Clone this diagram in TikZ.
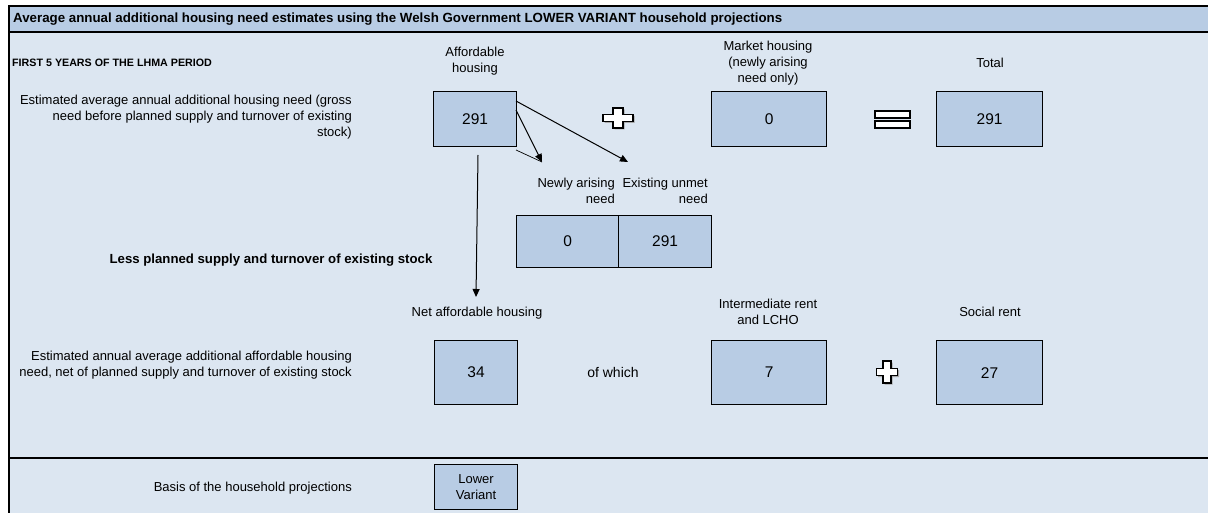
\documentclass[tikz,border=0pt]{standalone}
\usepackage{fontspec}
\setmainfont{Liberation Sans}
\usetikzlibrary{arrows.meta}
\definecolor{bodyblue}{HTML}{DCE6F1}
\definecolor{boxblue}{HTML}{B8CCE4}
\tikzset{
  numbox/.style={draw=black, line width=1.2pt, fill=boxblue, anchor=north west, inner sep=0pt,
    font=\fontsize{15.5}{17}\selectfont, align=center},
  lbl/.style={font=\fontsize{13}{16}\selectfont, align=center, inner sep=0pt},
  rlbl/.style={font=\fontsize{13}{16}\selectfont, align=right, inner sep=0pt, anchor=east},
  conn/.style={line width=1pt, -{Triangle[length=8pt,width=7pt]}},
  pics/plusmark/.style n args={4}{code={
    \fill[black!35] ({-#3/2+1.5},{-#2/2+1.5}) -- ({#3/2+1.5},{-#2/2+1.5}) -- ({#3/2+1.5},{-#4/2+1.5}) -- ({#1/2+1.5},{-#4/2+1.5})
      -- ({#1/2+1.5},{#4/2+1.5}) -- ({#3/2+1.5},{#4/2+1.5}) -- ({#3/2+1.5},{#2/2+1.5}) -- ({-#3/2+1.5},{#2/2+1.5})
      -- ({-#3/2+1.5},{#4/2+1.5}) -- ({-#1/2+1.5},{#4/2+1.5}) -- ({-#1/2+1.5},{-#4/2+1.5}) -- ({-#3/2+1.5},{-#4/2+1.5}) -- cycle;
    \draw[fill=white, line width=1.6pt, line join=miter] ({-#3/2},{-#2/2}) -- ({#3/2},{-#2/2}) -- ({#3/2},{-#4/2}) -- ({#1/2},{-#4/2})
      -- ({#1/2},{#4/2}) -- ({#3/2},{#4/2}) -- ({#3/2},{#2/2}) -- ({-#3/2},{#2/2})
      -- ({-#3/2},{#4/2}) -- ({-#1/2},{#4/2}) -- ({-#1/2},{-#4/2}) -- ({-#3/2},{-#4/2}) -- cycle;
  }},
  eqbar/.style={draw=black, fill=white, line width=1.6pt}
}
\begin{document}
\begin{tikzpicture}[x=1pt,y=-1pt]
\useasboundingbox (0,0) rectangle (1208,513);
\fill[white] (0,0) rectangle (1208,513);
\fill[bodyblue] (9,6) rectangle (1208,513);
\fill[boxblue] (9,6) rectangle (1208,32);
\draw[line width=1.2pt] (9,513) -- (9,6) -- (1208,6);
\draw[line width=1.2pt] (9,32) -- (1208,32);
\node[anchor=west, inner sep=0pt, font=\fontsize{13.3}{15}\selectfont\bfseries] (title) at (13,19)
  {Average annual additional housing need estimates using the Welsh Government LOWER VARIANT household projections};
\node[anchor=west, inner sep=0pt, font=\fontsize{10.7}{12}\selectfont\bfseries] (first) at (12,63)
  {FIRST 5 YEARS OF THE LHMA PERIOD};

% column headings
\node[lbl] (hAff) at (475,61) {Affordable\\housing};
\node[lbl] (hMkt) at (768,63) {Market housing\\(newly arising\\need only)};
\node[lbl] (hTot) at (990,63) {Total};

\node[rlbl] (row1) at (352,117) {Estimated average annual additional housing need (gross\\need before planned supply and turnover of existing\\stock)};

% row 1 boxes
\node[numbox, minimum width=83pt, minimum height=55pt] (aff) at (433,91) {291};
\node[numbox, minimum width=115pt, minimum height=55pt] (mkt) at (711,91) {0};
\node[numbox, minimum width=106pt, minimum height=55pt] (tot) at (936,91) {291};
\pic at (618,118) {plusmark={30}{20}{10}{7}};
\node[eqbar, minimum width=35pt, minimum height=7pt, inner sep=0pt] (eq1) at (892.5,114.5) {};
\node[eqbar, minimum width=35pt, minimum height=7pt, inner sep=0pt] (eq2) at (892.5,124.5) {};

% split headings
\node[rlbl] (hNew) at (615,191) {Newly arising\\need};
\node[rlbl] (hEx) at (708,191) {Existing unmet\\need};
\node[numbox, minimum width=102pt, minimum height=52pt] (new) at (516,215) {0};
\node[numbox, minimum width=93pt, minimum height=52pt] (ex) at (618,215) {291};

% connectors
\coordinate (tNew) at (542,162);
\coordinate (tEx) at (628,162);
\coordinate (sA) at (516,101);
\coordinate (sB) at (516,110);
\coordinate (sC) at (516,150);
\coordinate (vTop) at (478,155);
\coordinate (vBot) at (476,297);
\draw[conn] (sA) -- (tEx);
\draw[conn] (sB) -- (tNew);
\draw[line width=0.7pt] (sC) -- (tNew);
\draw[conn] (vTop) -- (vBot);

\node[anchor=center, inner sep=0pt, font=\fontsize{13.2}{15}\selectfont\bfseries] (less) at (271,260)
  {Less planned supply and turnover of existing stock};

% row 2 headings
\node[lbl] (hNet) at (477,313) {Net affordable housing};
\node[lbl] (hInt) at (768,312) {Intermediate rent\\and LCHO};
\node[lbl] (hSoc) at (990,312) {Social rent};

\node[rlbl] (row2) at (352,365) {Estimated annual average additional affordable housing\\need, net of planned supply and turnover of existing stock};
\node[numbox, minimum width=83pt, minimum height=64pt] (net) at (434,340) {34};
\node[lbl, font=\fontsize{14}{16}\selectfont] (ofw) at (613,372) {of which};
\node[numbox, minimum width=115pt, minimum height=64pt] (int) at (711,340) {7};
\node[numbox, minimum width=106pt, minimum height=64pt] (soc) at (936,340) {27};
\pic at (887,372) {plusmark={21}{22}{8}{7}};

\draw[line width=1.2pt] (9,458) -- (1208,458);

\node[rlbl] (basis) at (352,488) {Basis of the household projections};
\node[numbox, minimum width=83pt, minimum height=45pt, font=\fontsize{13}{16}\selectfont] (var) at (434,464) {Lower\\Variant};
\end{tikzpicture}
\end{document}
